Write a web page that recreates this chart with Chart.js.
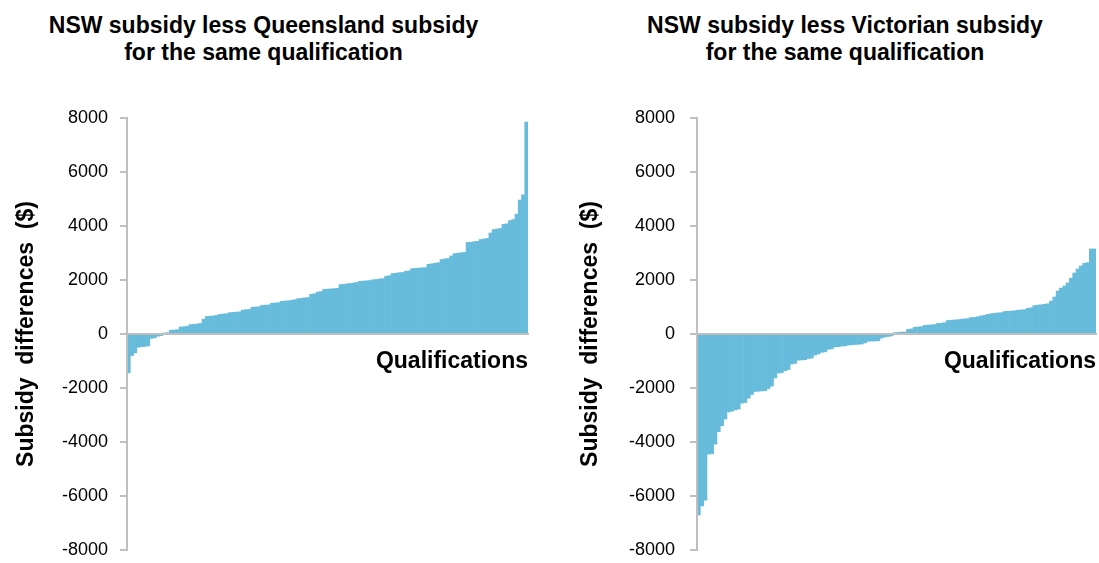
<!DOCTYPE html>
<html>
<head>
<meta charset="utf-8">
<script src="https://cdn.jsdelivr.net/npm/chart.js@4.4.0/dist/chart.umd.min.js"></script>
<style>
  body { margin: 0; background: #fff; overflow: hidden; }
  .wrap { position: relative; width: 1099px; height: 563px; }
  canvas { position: absolute; top: 0; }
  .title {
    position: absolute; top: 12px;
    font: bold 23px Arial, "Liberation Sans", sans-serif;
    line-height: 27px; text-align: center; color: #000; white-space: nowrap;
  }
</style>
</head>
<body>
<div class="wrap">
  <div class="title" style="left:0;width:527px">NSW subsidy less Queensland subsidy<br>for the same qualification</div>
  <div class="title" style="left:590px;width:510px">NSW subsidy less Victorian subsidy<br>for the same qualification</div>
  <canvas id="qld" width="550" height="563" style="left:0"></canvas>
  <canvas id="vic" width="539" height="563" style="left:560px"></canvas>
</div>
<script>
// NSW subsidy minus Queensland subsidy, one bar per qualification (sorted)
const qldDiff = [
  -1440, -800, -700, -490, -470, -460, -440, -160, -140, -80, -60,
  30, 50, 140, 150, 160, 260, 270, 290, 350, 360, 370, 390, 550,
  650, 660, 670, 690, 730, 740, 750, 790, 800, 810, 820, 880, 900, 910,
  990, 1000, 1010, 1060, 1070, 1080, 1140, 1150, 1160, 1210, 1220, 1230,
  1250, 1270, 1310, 1320, 1340, 1350, 1470, 1490, 1550, 1570,
  1650, 1660, 1670, 1680, 1690, 1830, 1840, 1860, 1870, 1890, 1910,
  1950, 1960, 1970, 1980, 2010, 2020, 2040, 2050, 2140, 2160,
  2240, 2250, 2270, 2280, 2320, 2340, 2420, 2430, 2440, 2450, 2460,
  2580, 2600, 2620, 2640, 2760, 2780, 2800, 2890, 2980, 2990, 3010, 3020,
  3390, 3400, 3420, 3430, 3500, 3520, 3540, 3740, 3870, 3890, 3910,
  4060, 4080, 4200, 4240, 4440, 4960, 5150, 7850
];

// NSW subsidy minus Victorian subsidy, one bar per qualification (sorted)
const vicDiff = [
  -6700, -6370, -6150, -4450, -4430, -4080, -3620, -3400, -3150,
  -2890, -2860, -2810, -2780, -2560, -2540, -2380, -2240,
  -2130, -2120, -2110, -2100, -2020, -1930, -1630, -1450, -1430,
  -1360, -1320, -1110, -1090, -970, -960, -950, -910, -890, -780, -740,
  -680, -660, -570, -550, -480, -470, -450, -440,
  -410, -400, -390, -380, -370, -330, -270, -260, -260, -250, -150,
  -110, -90, -70,
  50, 60, 70, 70, 170, 190, 250, 260, 270, 320, 330, 340, 350,
  390, 400, 420, 500, 510, 520, 530, 550, 560, 570, 610, 620, 640,
  670, 690, 730, 750, 770, 780, 790, 830, 840, 850, 860, 880, 890, 900,
  950, 970, 1050, 1070, 1080, 1100, 1120, 1220, 1370, 1590, 1700, 1780,
  1890, 2070, 2260, 2410, 2520, 2620, 2640, 3150, 3150
];

const yTicks = [-8000, -6000, -4000, -2000, 0, 2000, 4000, 6000, 8000];

const barColour = '#67BCDB';
const axisGrey = '#BFBFBF';
const fontFamily = 'Arial, "Liberation Sans", sans-serif';

function drawPanel(id, values, axisWidth, yTitlePad, tickPad, padRight) {
  const ctx = document.getElementById(id).getContext('2d');
  return new Chart(ctx, {
    type: 'bar',
    data: {
      labels: values.map((v, i) => i + 1),
      datasets: [{
        data: values,
        backgroundColor: barColour,
        barPercentage: 1,
        categoryPercentage: 1
      }]
    },
    options: {
      responsive: false,
      animation: false,
      events: [],
      layout: { padding: { top: 118, bottom: 13, left: 0, right: padRight } },
      plugins: {
        legend: { display: false },
        tooltip: { enabled: false }
      },
      scales: {
        x: {
          position: { y: 0 },
          grid: { display: false, drawTicks: false },
          border: { color: axisGrey, width: 2, z: 1 },
          ticks: { display: false },
          title: {
            display: true,
            text: 'Qualifications',
            align: 'end',
            color: '#000',
            font: { family: fontFamily, size: 23, weight: 'bold' },
            padding: { top: 14, bottom: 0 }
          }
        },
        y: {
          min: yTicks[0],
          max: yTicks[yTicks.length - 1],
          afterFit: function (scale) {
            // fixed axis width; let layout padding alone set top/bottom
            scale.width = axisWidth;
            scale.paddingTop = 0;
            scale.paddingBottom = 0;
          },
          afterBuildTicks: function (scale) { scale.ticks = yTicks.map(v => ({ value: v })); },
          ticks: {
            padding: tickPad,
            color: '#000',
            font: { family: fontFamily, size: 18 },
            callback: v => v
          },
          grid: { drawOnChartArea: false, tickLength: 7, color: axisGrey, lineWidth: 2 },
          border: { color: axisGrey, width: 2, z: 1 },
          title: {
            display: true,
            text: 'Subsidy  differences  ($)',
            color: '#000',
            font: { family: fontFamily, size: 23, weight: 'bold' },
            padding: { top: yTitlePad, bottom: 0 }
          }
        }
      }
    }
  });
}

drawPanel('qld', qldDiff, 127, 13, 12, 22);
drawPanel('vic', vicDiff, 137, 17, 15, 3);
</script>
</body>
</html>
